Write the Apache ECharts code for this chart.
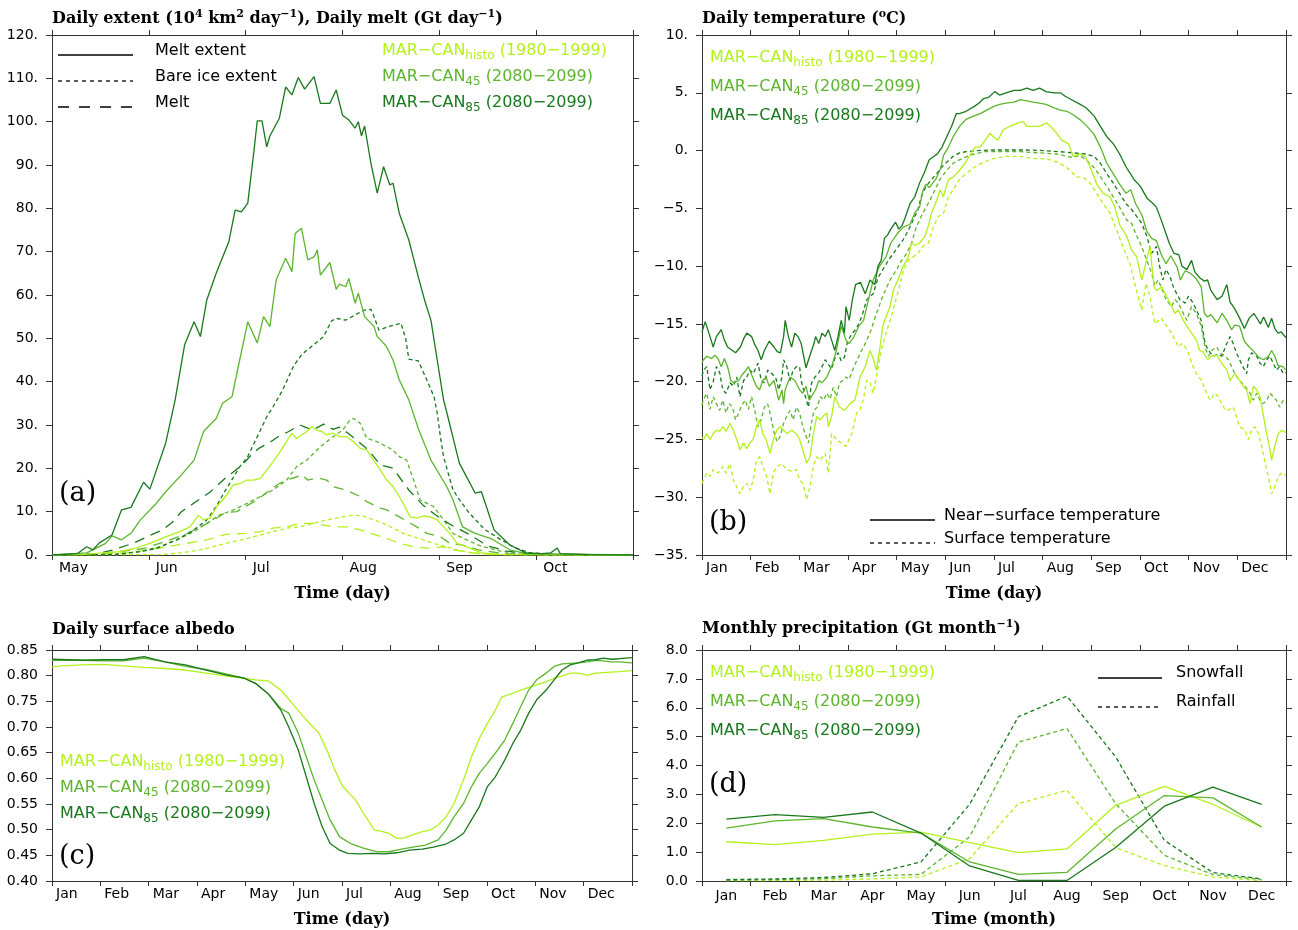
<!DOCTYPE html>
<html>
<head>
<meta charset="utf-8">
<title>MAR-CAN daily and monthly fields</title>
<script src="https://cdn.jsdelivr.net/npm/echarts@6/dist/echarts.min.js"></script>
<style>
  html, body { margin: 0; padding: 0; background: #fff; }
  #main { width: 1298px; height: 930px; }
</style>
</head>
<body>
<div id="main"></div>
<script>
let log = console.log.bind(console)

// colours of the three runs
const cHisto = '#b2f11b'
const c45 = '#5cb52d'
const c85 = '#18781c'

const monthsA = ['May', 'Jun', 'Jul', 'Aug', 'Sep', 'Oct']
const months = ['Jan', 'Feb', 'Mar', 'Apr', 'May', 'Jun', 'Jul', 'Aug', 'Sep', 'Oct', 'Nov', 'Dec']

// (a) [day since 1 May, value]
const extMelt85 = [[0,0],[8,0.3],[11,1.9],[13,1.2],[15,2.8],[19,4.6],[22,10.4],[25,11],[29,16.8],[31,15.2],[36,25.8],[39,35.8],[42,48.5],[45,53.8],[47,50.4],[49,58.8],[52,65],[56,72.3],[58,79.6],[60,79.2],[62,81.2],[64,93.5],[65,100.2],[66.5,100.2],[68,94.2],[69,96.7],[72,100.8],[74,108],[76,106.2],[78,110.2],[80,107.5],[81,108.5],[83,110.4],[85,104.2],[88,104.2],[90,107.3],[92,101.5],[94,100.4],[96,98.5],[97,100],[98,96.7],[99,99],[101,90.4],[103,83.5],[105,89.6],[107,85.4],[108,85.8],[110,78.8],[113,72.7],[116,64.2],[118,58.8],[120,54.2],[122,45],[124,35.8],[125,33],[129,21.2],[134,14.3],[136,14.6],[140,5.8],[145,2.3],[150,0.5],[155,0.3],[158,0.5],[160,1.6],[161,0.3],[170,0.1],[184,0]]
const extMelt45 = [[0,0],[11,0.5],[14,1.6],[17,2.7],[19,4.4],[22,3.5],[25,5],[28,8.1],[33,11.9],[36,14.6],[41,18.5],[45,21.9],[48,28.5],[52,31.5],[54,35],[57,36.5],[59,43.5],[62,53.8],[65,48.9],[67,55],[69,52.7],[71,63.5],[74,68.5],[76,65.4],[77,74.2],[79,75.4],[81,68.1],[83,68.8],[84,70.4],[85,64.6],[88,67.5],[90,61.3],[91,62.5],[93,61.9],[94,63.8],[96,58.1],[97,60.4],[99,55],[102,52.7],[103,50.4],[105,48.9],[106,48],[108,45],[110,40.4],[113,35.8],[116,29.2],[120,21.9],[125,15.8],[127,12.7],[130,6.5],[134,5],[139,3.8],[145,1.2],[150,0.3],[184,0]]
const extMeltH = [[0,0],[11,0.2],[21.5,0.8],[26,1.5],[31,2.7],[36,4.2],[40.5,5.4],[43.7,6.5],[46.4,9.2],[47.9,8.1],[50,8.5],[52.2,11.2],[55.3,13.8],[57.4,16.2],[59.6,16.5],[61.7,17.3],[63.8,17.3],[66,17.7],[68,19.6],[70,21.5],[72.2,23.8],[74.3,26.2],[75.9,28.1],[77.5,26.9],[79,27.7],[80.7,28.5],[82.3,29.6],[83.8,28.8],[85.4,28.5],[87,27.7],[89,28.1],[91.2,27.3],[93.3,27.3],[95.4,26.2],[97.6,24.6],[99.7,24.2],[101.8,21.9],[104,19.6],[106,17.3],[108,15.8],[110,13.5],[112.3,10.4],[113.4,8.8],[115.5,8.5],[117.6,9],[119.7,8.8],[122,8.1],[124,6.5],[126,5],[128.2,2.7],[132,1.7],[136,0.5],[142,0.1],[184,0]]
const bareIce85 = [[0,0],[20,0.1],[28,0.8],[33,1.5],[39.5,3.5],[45,5.8],[49,8.1],[52,11.2],[55,15],[59.5,20.4],[62,22.7],[64,25.8],[66,28.8],[68,31.9],[70,34.2],[73,38],[74.5,40.4],[76.5,43.6],[79,46.2],[82,48],[86,50.4],[88.5,54],[90,54.6],[93,54.2],[97,55.8],[99,56.5],[101,56.7],[102,55],[103.5,51.9],[106.5,52.7],[108,53],[110.5,53.5],[112,50],[113,45.2],[116,44.8],[118.7,40.4],[121,36.5],[122,32.7],[123,27.3],[124,22.7],[125.5,18.8],[127,15],[129,12.8],[132,9.8],[137,5.9],[142,3.6],[146.5,1.7],[151.5,0.5],[160,0.1],[184,0]]
const bareIce45 = [[0,0],[20,0.2],[28,0.8],[34,1.9],[39.5,3.5],[45,5.4],[49,7.3],[53,9.2],[57.5,10.4],[61.7,11.9],[66,13.5],[70,15],[74.3,17.3],[77.5,20.4],[80.7,21.9],[85,25],[89,27.3],[92,28.8],[94.4,31.2],[95.5,31.5],[97.6,30.4],[99.7,26.9],[102.8,26.2],[106,25],[108,24.2],[110,22.7],[112.3,21.9],[114.5,17.3],[116.6,12.7],[120.8,11.2],[124,8.1],[127,5],[131,3.6],[136,2],[142,0.9],[148,0.2],[184,0]]
const bareIceH = [[0,0],[35,0.1],[42,0.6],[47,1.2],[53,2.3],[57.4,3.1],[61.7,3.8],[66,4.6],[70,5.4],[74.3,6.2],[78.6,6.5],[82.8,7.3],[87,8.1],[91.2,8.7],[95.5,9.2],[98.6,9],[101.8,8.1],[105,7.3],[108,6.2],[111.3,5],[114.5,4.2],[117.6,3.5],[120.8,2.7],[125,1.9],[128.2,1.2],[133,0.5],[140,0.1],[184,0]]
const melt85 = [[0,0],[14,0.2],[20,1.3],[26,2.8],[31,4.5],[35,5.8],[38,7.5],[41,10],[45,12],[50,14.5],[54.5,17.5],[58,19.5],[60.5,21],[63,23],[65.5,24.6],[69,26],[72,27.5],[75,28.5],[78.5,30],[81,29.3],[83,29],[86,30.2],[89,29],[91,29.5],[94,28],[96,26.8],[99,25],[101,23.5],[104,20.8],[108,20],[110,18],[113,15],[117.5,11.5],[121,9.5],[124,8],[127,6.7],[132,4.8],[138,2.1],[144,0.9],[150,0.4],[160,0.1],[184,0]]
const melt45 = [[0,0],[15,0.3],[21.5,0.8],[29,1.5],[36,3.1],[43,5],[47,6.5],[51,8],[55,9.8],[58.5,10],[62,11.5],[65,12.7],[69,15],[72,16.5],[75,17.5],[77.5,18],[79,18.6],[81,17.3],[84,17.8],[87,17.3],[89,15.8],[93,15],[97.6,13.5],[99.7,12.3],[104,10.8],[106,10.4],[110,8.8],[115.5,6.5],[118.7,5],[123,4.2],[126,2.7],[130,2.3],[135,1.2],[142,0.4],[150,0.1],[184,0]]
const meltH = [[0,0],[15,0.1],[23.7,0.5],[30,1.2],[36.3,1.9],[42.7,2.7],[49,3.5],[55.3,4.8],[61.7,5],[66,5.4],[70,6.2],[74.3,6.5],[78.6,7.3],[82.8,7.3],[89,6.5],[93.3,6.5],[97.6,5.8],[101.8,4.8],[106,3.8],[110.2,2.7],[114.5,1.9],[119.7,1.5],[124,1.9],[127,1.2],[132,0.6],[138,0.1],[184,0]]

// (b) [day of year, degC]
const tNear85 = [[0,-15.7],[2,-14.8],[5,-16.1],[7,-17],[9,-16.1],[12,-15.5],[14,-16.4],[16,-17],[19,-17.3],[21,-17.5],[24,-17],[26,-16.3],[28,-15.8],[31,-16.1],[33,-16.8],[35,-17.3],[37,-18.1],[39,-17.3],[42,-16.5],[45,-17],[47,-17.4],[49,-17.5],[51,-16.1],[52,-14.7],[54,-16.1],[56,-17],[58,-15.8],[60,-16.1],[62,-16.7],[65,-18.8],[68,-17.5],[70,-16.7],[71,-16.1],[73,-16.7],[75,-15.8],[77,-16.1],[79,-15.5],[81,-16.4],[83,-17.3],[85,-16.1],[87,-14.7],[89,-15.8],[90,-13.5],[92,-14.7],[94,-12.9],[96,-11.6],[99,-11.4],[102,-12.4],[105,-11.2],[108,-11.6],[110,-10],[112,-9.5],[114,-7.6],[116,-7.3],[118,-6.8],[121,-6.2],[123,-6.8],[125,-6.5],[127,-5.8],[130,-4.6],[133,-4],[136,-2.8],[139,-1.9],[142,-0.8],[147,-0.3],[150,0.3],[153,1.2],[156,2.1],[159,3.2],[161,3.2],[165,3.4],[170,3.8],[173,4.1],[176,4.5],[179,4.6],[183,5.1],[186,4.8],[190,5],[195,5.2],[199,5.2],[203,5.4],[207,5.2],[211,5.4],[215,5.1],[220,5],[224,5],[227,4.7],[231,4.4],[235,4.1],[240,3.7],[245,3],[249,2.1],[253,1.2],[257,0.6],[261,-0.3],[265,-1.4],[270,-2.5],[274,-3.1],[278,-4.1],[282,-4.6],[284,-4.9],[287,-6],[290,-7.2],[292,-8],[295,-8.9],[298,-9],[300,-10],[303,-10.3],[306,-9.5],[308,-10.5],[311,-11],[314,-11.3],[316,-11.2],[318,-12.1],[322,-12.9],[325,-12.6],[328,-11.6],[330,-13.1],[333,-13.7],[336,-14.5],[339,-15.4],[342,-14.5],[345,-14.1],[349,-15],[351,-14.4],[354,-15.3],[356,-14.5],[358,-15.4],[360,-15.8],[362,-15.7],[365,-16.2]]
const tNear45 = [[0,-18.3],[1,-18.1],[3,-17.8],[6,-18],[8,-17.7],[10,-18],[12,-18.7],[14,-18],[16,-18.7],[18,-19.9],[20,-20.1],[23,-19.9],[25,-19.4],[27,-19.1],[29,-18.7],[31,-19.4],[34,-20.4],[36,-20.7],[38,-19.9],[40,-19.6],[42,-20.4],[45,-19.9],[48,-21.6],[50,-20.7],[51,-21.9],[52,-20.7],[55,-19.6],[58,-19.9],[61,-20.7],[63,-21],[65,-20.4],[67,-21.6],[71,-20.7],[73,-19.9],[75,-20.1],[78,-19.6],[81,-18.7],[84,-17.3],[87,-15.2],[90,-16.4],[92,-16.7],[95,-16.1],[98,-15.2],[101,-14.7],[103,-13.5],[104,-13.4],[107,-11.2],[111,-10],[115,-9.2],[118,-8],[122,-7.2],[126,-6.6],[130,-6.4],[133,-5.4],[136,-4.9],[138,-3.5],[140,-2.9],[142,-3.2],[146,-2.5],[149,-1.6],[151,-0.4],[154,0.3],[157,1.2],[161,2.1],[165,2.7],[170,3],[174,3.2],[178,3.5],[182,3.8],[186,4],[190,4.1],[195,4.2],[199,4.4],[203,4.3],[207,4.2],[211,4.1],[215,4],[220,3.7],[224,3.5],[228,3.4],[232,3.1],[236,2.7],[240,2.2],[245,1.4],[249,0.3],[253,-1.1],[257,-2],[261,-2.9],[265,-3.7],[268,-3.4],[271,-4.6],[275,-5.6],[278,-7],[281,-7.6],[284,-7.8],[287,-9],[290,-9.8],[293,-9.1],[297,-10.1],[299,-11.2],[302,-10.4],[305,-10.6],[309,-11.1],[312,-11.8],[314,-14.1],[316,-14.4],[318,-14.2],[322,-14.9],[325,-14.1],[328,-14.7],[331,-15.5],[333,-15.1],[336,-15.2],[339,-16.5],[342,-17],[345,-17.4],[348,-17.9],[351,-18.1],[354,-17.8],[356,-17.3],[358,-17.8],[360,-18.6],[363,-18.7],[365,-19]]
const tNearH = [[0,-24.8],[1,-25],[3,-24.5],[5,-25],[7,-24.5],[9,-24.2],[11,-24.3],[13,-23.9],[15,-24.3],[17.5,-23.6],[19.6,-24.2],[21.7,-25],[23.75,-25.9],[26,-25.3],[28,-25.8],[30,-25.3],[32,-25],[34,-23.9],[36,-23.3],[38,-24.5],[40,-25],[42.5,-26.2],[44.6,-25],[46.7,-24.2],[48.75,-23.9],[51,-24.2],[53,-24.5],[56,-24.2],[59,-24.5],[61,-25],[63,-25.9],[65.4,-27.05],[67.5,-26.5],[69.6,-24.5],[71.7,-23],[73.75,-23.3],[75.8,-23],[78,-22.7],[79,-23.9],[81,-23],[83,-21.3],[86,-22.2],[89,-22.5],[92.5,-21.9],[95.6,-21.6],[98.75,-19.6],[102,-18.7],[105,-17.3],[107,-18],[109,-19],[111,-17.3],[113,-15.2],[115,-14.4],[117.5,-13.5],[119.6,-12.1],[122.7,-11.1],[125.8,-10],[129,-9.2],[131,-8],[133,-8.2],[136,-8],[139.4,-7.4],[141.5,-6.5],[143.5,-5.4],[146.7,-4.3],[148.75,-3.4],[150.8,-4],[154,-2.5],[157,-2.3],[161,-1.7],[164.4,-1.1],[167.5,-0.4],[170.6,0.3],[173.75,0.3],[177,0.9],[180,1.5],[182,1.2],[185,0.9],[188.3,1.8],[192.5,2.1],[197.7,2.4],[200.8,2.5],[203,2.1],[207,2.1],[211,2.1],[215.4,2.4],[218.5,2],[221.7,1.5],[224.8,0.9],[229,0.6],[232,-0.5],[236,-0.3],[239.4,-0.5],[242.5,-1.4],[246.7,-2.9],[250.8,-3.7],[255,-4],[258,-4.9],[261,-6.4],[265.4,-7.4],[268.5,-8.6],[271.7,-9.2],[274.8,-11.2],[278,-9.4],[280,-8.3],[282.5,-11.8],[284.2,-12.1],[287.3,-11.8],[290.4,-12.6],[293.5,-13.5],[295.6,-14.1],[297.7,-13.8],[300.8,-14.7],[303,-15.2],[306,-15.8],[309,-16.4],[311,-17.3],[313,-17.4],[316,-18.1],[318.5,-17.8],[321.7,-17.7],[324.8,-18.4],[328,-19],[330,-19.9],[333,-19.3],[336,-19.9],[338.3,-20.4],[340.4,-20.7],[342.5,-21.9],[344.6,-20.4],[346.7,-20.7],[348.75,-21.3],[350.8,-22.9],[352.9,-24.5],[355,-25.9],[356,-26.8],[358,-25.6],[360.2,-24.5],[362.3,-24.2],[365,-24.4]]
const tSurf85 = [[0,-19.5],[1,-19],[3,-18.7],[5,-20.7],[7,-20],[9,-18.7],[11,-19.2],[13,-20.7],[15,-21],[17.5,-20.1],[19.6,-20.4],[21.7,-19.6],[23.75,-21.3],[26,-19.9],[28,-19.6],[30,-19],[32,-19.3],[35,-18.4],[37,-19.9],[39,-20.1],[41,-19],[43.5,-19.3],[46,-19.6],[48,-20.7],[50,-19.6],[51,-18.1],[53,-18.7],[55,-19.9],[57,-19],[59,-18.7],[61,-18.7],[62,-19.9],[64,-21],[66.5,-22.2],[68.5,-20.1],[70.6,-19.6],[72.7,-19.3],[75,-18.7],[77,-18.1],[79,-18.5],[81,-18.9],[83,-18],[85,-17.5],[87,-18.2],[89,-17.9],[91,-16.5],[94,-15.8],[96,-15.5],[98,-15],[100,-14.3],[103,-12.9],[107,-12.4],[110,-11],[113,-10.3],[116.5,-9.5],[119.6,-8.9],[122.7,-8.3],[125.8,-7.7],[129,-6.9],[132,-6],[135,-5.1],[137,-4],[140,-3.1],[143.5,-2.5],[146.7,-2],[150,-1.4],[153,-1],[157,-0.5],[161,-0.2],[165,-0.1],[172,0],[182,0.05],[192,0.05],[203,0.05],[213,0],[224,-0.1],[232,-0.2],[240,-0.3],[245,-0.5],[249,-1.1],[253,-2],[257,-2.8],[261,-3.7],[265,-4.6],[268.5,-5.1],[271.7,-5.7],[274.8,-6.3],[278,-7.4],[281,-8.9],[284,-8.3],[286,-10],[288,-11.2],[290,-10.3],[292.5,-10.9],[294.6,-11.8],[296.7,-12.4],[298.75,-12.9],[302,-13.2],[304,-12.6],[307,-13.2],[309,-13.8],[312,-14.7],[314.4,-16.7],[316.5,-17.3],[319.6,-17.8],[322.7,-17.6],[324.8,-17.8],[328,-16.7],[330,-16.1],[332,-16.7],[334,-17.5],[336,-18.1],[338,-18.7],[340.4,-19.3],[341.5,-18.1],[343.5,-17.5],[346.7,-17.8],[348.75,-18.4],[350.8,-18.7],[353,-18.1],[355,-17.8],[357,-18.4],[359,-19],[361,-18.7],[363.3,-19.3],[365,-19.2]]
const tSurf45 = [[0,-22],[1,-21.5],[3,-21],[5,-22.4],[7,-21.3],[9,-21.9],[11,-22.5],[13,-21.6],[15,-22.7],[17,-21.9],[19,-22.2],[21,-23.3],[23,-22.7],[25,-22],[27,-21.6],[29,-22.4],[31,-21.3],[33,-22.5],[35,-23.9],[37,-23.3],[39,-22.2],[41,-21.9],[43,-23],[45,-24.4],[47,-25.2],[49,-24.7],[51,-23.6],[53,-23],[55,-22.5],[57,-23.3],[59,-22.2],[61,-22.7],[63,-23.9],[65,-24.7],[66.5,-25.3],[68,-23.9],[70,-22.5],[72,-22.2],[74,-21.3],[76,-21.6],[78,-21],[80,-21.5],[82,-20.5],[84,-21.3],[86,-20.1],[88,-19.9],[90,-19.6],[92,-19.8],[95,-18.7],[97,-18.1],[99,-17.5],[101,-17],[103,-16.4],[105,-15.8],[109,-14.1],[113,-12.6],[117.5,-11.2],[121.7,-10.3],[124.8,-9.5],[128,-8.9],[131,-8],[134,-6.6],[138,-5.4],[142.5,-4.3],[145.6,-3.4],[148.75,-2.5],[153,-1.7],[157,-1.1],[161,-0.8],[167.5,-0.4],[176,-0.1],[186,-0.1],[199,-0.1],[211,-0.2],[222,-0.3],[228,-0.5],[232,-0.6],[236,-0.4],[240,-0.8],[244.6,-1.4],[248.75,-2.2],[253,-3.1],[257,-4],[261,-4.9],[265.4,-6],[268.5,-6.3],[271.7,-7.4],[274.8,-8.3],[278,-9.5],[281,-10.6],[283,-11.7],[285,-11.2],[287,-11.8],[290,-12.9],[293.5,-13.5],[295.6,-12.9],[297.7,-13.2],[299.8,-13.8],[303,-14.7],[306,-13.5],[309,-14.1],[312,-15.2],[314.4,-17],[316.5,-17.8],[318.5,-17.3],[321.7,-17],[323.75,-17.5],[327,-17.8],[329,-18.1],[331,-18.7],[333,-19.3],[336,-19.9],[339.4,-20.4],[342.5,-21],[344.6,-21.6],[346.7,-21],[348.75,-21.6],[350.8,-21.9],[353,-21.6],[355,-21],[357,-21.3],[359,-21.6],[361,-22.2],[363.3,-21.6],[365,-21.8]]
const tSurfH = [[0,-28.8],[1,-28.5],[3,-27.9],[5,-28.2],[7,-27.6],[10,-27.9],[13,-27.35],[15,-27.9],[17.5,-27.1],[19.6,-28.5],[21.7,-29.1],[23.75,-29.7],[25.8,-29.1],[28,-28.8],[30,-29.4],[32,-28.5],[34,-26.8],[36,-26.5],[38,-27.35],[40.4,-28.2],[42.5,-29.7],[44.6,-27.9],[46.7,-27.35],[49.8,-27.1],[53,-27.6],[56,-27.75],[59,-27.6],[61,-28.5],[63,-28.8],[65.4,-30.2],[67.5,-29.1],[69.6,-27.35],[71.7,-26.5],[73.75,-26.8],[77,-26.2],[79,-27.9],[81,-24.5],[84,-25],[87,-25.3],[90,-25.6],[93.5,-24.5],[96.7,-22.7],[98.75,-22.45],[100.8,-21.6],[103,-19.85],[105,-20.1],[107,-21],[109,-19.6],[112,-17.3],[115,-15.8],[118,-14.5],[121,-13],[123,-12],[126,-10.3],[129,-9.5],[132,-9.2],[135,-8.9],[138,-8.3],[141.5,-8],[144.6,-6.6],[147.7,-5.7],[150.8,-5.5],[154,-4],[157,-3.4],[161,-2.5],[165,-2],[170.6,-1.4],[176,-1],[182,-0.7],[190,-0.5],[199,-0.5],[207,-0.7],[215,-0.7],[222,-1],[226,-1.3],[230,-1.7],[234,-2.3],[238,-2.3],[242.5,-2.8],[246.7,-3.7],[250.8,-4.6],[255,-5.4],[259,-6.8],[263,-8.3],[267.5,-9.8],[271,-11.8],[274.8,-13.8],[277.5,-11.5],[280,-12.6],[283,-15],[287,-14.5],[290.4,-15.2],[293.5,-15.8],[295.6,-16.4],[297.7,-17],[300,-16.7],[302,-17],[304,-17.5],[306,-18.4],[309,-19.3],[312,-19.85],[315.4,-21],[317.5,-21.6],[320.6,-21],[322.7,-21.3],[324.8,-21.9],[327,-22.45],[329,-22.45],[332,-22.2],[334,-23],[336,-23.9],[339.4,-24.2],[341.5,-25],[343.5,-24.2],[345.6,-23.9],[347.7,-24.5],[349.8,-25.6],[352,-27.1],[354,-28.2],[356,-29.7],[358,-29.1],[360.2,-28.2],[362.3,-27.9],[365,-28.1]]

// (c) [day of year, albedo]
const albedoH = [[0,0.817],[6,0.819],[19,0.821],[32,0.822],[45,0.819],[58,0.816],[71,0.814],[84,0.811],[97,0.805],[110,0.799],[121,0.795],[128,0.792],[136,0.79],[144,0.772],[152,0.743],[160,0.714],[168,0.688],[173,0.655],[178,0.616],[183,0.584],[191,0.558],[196,0.532],[203,0.499],[207,0.497],[212,0.493],[217,0.483],[222,0.484],[227,0.49],[233,0.496],[238,0.499],[243,0.509],[248,0.525],[253,0.551],[259,0.597],[264,0.642],[269,0.678],[274,0.707],[279,0.733],[283,0.758],[290,0.766],[295,0.772],[300,0.777],[305,0.782],[311,0.788],[316,0.795],[321,0.799],[326,0.805],[331,0.805],[337,0.801],[342,0.805],[347,0.806],[352,0.807],[357,0.808],[365,0.81]]
const albedo45 = [[0,0.83],[19,0.83],[32,0.829],[45,0.829],[58,0.834],[71,0.827],[84,0.818],[97,0.812],[110,0.803],[121,0.795],[128,0.785],[136,0.765],[144,0.736],[149,0.727],[155,0.688],[160,0.642],[165,0.597],[170,0.558],[175,0.519],[181,0.486],[188,0.473],[196,0.464],[204,0.457],[212,0.457],[220,0.462],[227,0.466],[235,0.47],[243,0.48],[248,0.499],[253,0.525],[259,0.551],[264,0.584],[269,0.61],[274,0.629],[279,0.649],[285,0.675],[290,0.707],[295,0.74],[300,0.772],[305,0.792],[311,0.805],[316,0.818],[321,0.823],[326,0.824],[331,0.825],[337,0.827],[342,0.83],[347,0.829],[352,0.827],[357,0.827],[365,0.825]]
const albedo85 = [[0,0.832],[19,0.83],[32,0.831],[45,0.831],[58,0.837],[71,0.827],[84,0.821],[97,0.811],[110,0.801],[121,0.795],[128,0.785],[136,0.765],[144,0.733],[149,0.7],[155,0.655],[160,0.603],[165,0.551],[170,0.506],[175,0.473],[181,0.46],[186,0.454],[194,0.453],[201,0.454],[209,0.453],[217,0.455],[225,0.46],[233,0.462],[240,0.466],[248,0.472],[253,0.48],[259,0.493],[264,0.519],[269,0.545],[274,0.584],[279,0.603],[285,0.636],[290,0.668],[295,0.694],[300,0.727],[305,0.753],[311,0.772],[316,0.792],[321,0.811],[326,0.821],[331,0.825],[337,0.8305],[342,0.831],[347,0.834],[352,0.832],[357,0.833],[365,0.835]]

// (d) Gt per month, Jan..Dec
const snow85 = [2.14, 2.3, 2.2, 2.39, 1.66, 0.52, 0.02, 0.02, 1.16, 2.59, 3.25, 2.65]
const snow45 = [1.83, 2.08, 2.16, 1.87, 1.66, 0.66, 0.23, 0.3, 1.8, 2.96, 2.88, 1.87]
const snowH = [1.36, 1.26, 1.41, 1.62, 1.69, 1.33, 0.98, 1.11, 2.62, 3.28, 2.65, 1.87]
const rain85 = [0.05, 0.07, 0.12, 0.25, 0.66, 2.66, 5.69, 6.4, 4.3, 1.41, 0.29, 0.07]
const rain45 = [0.02, 0.05, 0.08, 0.18, 0.23, 1.53, 4.81, 5.28, 2.68, 0.89, 0.22, 0.05]
const rainH = [0.01, 0.02, 0.03, 0.07, 0.14, 0.77, 2.68, 3.14, 1.16, 0.53, 0.14, 0.01]

const SHORT = [4, 3]
const LONG = [10, 7]
const axisColor = '#333'
const tickFont = { fontFamily: 'DejaVu Sans', fontSize: 14, color: '#000' }
const nameFont = { fontFamily: 'DejaVu Serif', fontWeight: 'bold', fontSize: 16, color: '#000' }

let axisLine = { show: true, onZero: false, lineStyle: { color: axisColor, width: 1 } }
let tick = function(len) {
    return { show: true, inside: false, length: len, lineStyle: { color: axisColor } }
}

// hidden axis that carries the days
let dataAxis = function(grid, max) {
    return { type: 'value', gridIndex: grid, min: 0, max: max, show: false, position: 'bottom',
        axisLine: { onZero: false } }
}

// month ticks and labels under the plot
let labelAxis = function(grid, names, pad, name) {
    return {
        type: 'value', gridIndex: grid, position: 'bottom',
        min: 0, max: names.length, interval: 1,
        axisLine: axisLine, axisTick: tick(5), splitLine: { show: false },
        axisLabel: Object.assign({
            margin: 6, align: 'left', padding: [0, 0, 0, pad],
            formatter: function(v) { return names[Math.round(v)] || '' }
        }, tickFont),
        name: name, nameLocation: 'middle', nameGap: 31, nameTextStyle: nameFont
    }
}

let topAxis = function(grid, n) {
    return {
        type: 'value', gridIndex: grid, position: 'top', min: 0, max: n, interval: 1,
        axisLine: axisLine, axisTick: tick(5), axisLabel: { show: false }, splitLine: { show: false }
    }
}

let leftAxis = function(grid, min, max, interval, fmt) {
    return {
        type: 'value', gridIndex: grid, position: 'left', min: min, max: max, interval: interval,
        axisLine: axisLine, axisTick: tick(6), splitLine: { show: false },
        axisLabel: Object.assign({ margin: 14, formatter: fmt }, tickFont)
    }
}

let rightAxis = function(grid, min, max, interval) {
    return {
        type: 'value', gridIndex: grid, position: 'right', min: min, max: max, interval: interval,
        axisLine: axisLine, axisTick: tick(6), axisLabel: { show: false }, splitLine: { show: false }
    }
}

let catAxis = function(grid, pos, labels) {
    return {
        type: 'category', gridIndex: grid, position: pos, data: months, boundaryGap: true,
        axisLine: axisLine, axisTick: tick(5), splitLine: { show: false },
        axisLabel: labels ? Object.assign({ margin: 8 }, tickFont) : { show: false },
        name: labels ? 'Time (month)' : '', nameLocation: 'middle', nameGap: 31, nameTextStyle: nameFont
    }
}

let line = function(data, color, dash, xi, yi) {
    return {
        type: 'line', data: data, xAxisIndex: xi, yAxisIndex: yi,
        symbol: 'none', showSymbol: false, silent: true,
        lineStyle: { color: color, width: 1.3, type: dash }
    }
}

const minus = function(v) { return (v < 0 ? '\u2212' : '') + Math.abs(v) + '.' }

// legend pieces
let txt = function(x, y, text, color) {
    return { type: 'text', x: x, y: y, silent: true,
        style: { text: text, fill: color, fontSize: 16, fontFamily: 'DejaVu Sans', verticalAlign: 'middle' } }
}
let seg = function(x1, x2, y, dash) {
    return { type: 'line', silent: true, shape: { x1: x1, y1: y, x2: x2, y2: y },
        style: { stroke: '#000', lineWidth: 1.3, lineDash: dash } }
}
let scen = function(x, y, i) {
    let colors = [cHisto, c45, c85]
    let texts = ['MAR\u2212CAN{s|histo} (1980\u22121999)', 'MAR\u2212CAN{s|45} (2080\u22122099)', 'MAR\u2212CAN{s|85} (2080\u22122099)']
    return { type: 'text', x: x, y: y, silent: true,
        style: { text: texts[i], fill: colors[i], fontSize: 16, fontFamily: 'DejaVu Sans', verticalAlign: 'middle',
            rich: { s: { fill: colors[i], fontSize: 12, fontFamily: 'DejaVu Sans', padding: [9, 0, 0, 0] } } } }
}
let panel = function(x, y, t) {
    return { type: 'text', x: x, y: y, silent: true,
        style: { text: t, fill: '#000', fontSize: 27, fontFamily: 'DejaVu Serif', verticalAlign: 'middle' } }
}

let titleStyle = {
    fontFamily: 'DejaVu Serif', fontWeight: 'bold', fontSize: 16, color: '#000',
    rich: { sup: { fontFamily: 'DejaVu Serif', fontWeight: 'bold', fontSize: 11, color: '#000', padding: [0, 0, 9, 0] } }
}

let option = {
    animation: false,
    backgroundColor: '#fff',
    title: [
        { text: 'Daily extent (10{sup|4} km{sup|2} day{sup|\u22121}), Daily melt (Gt day{sup|\u22121})', left: 52, top: 9, padding: 0, textStyle: titleStyle },
        { text: 'Daily temperature ({sup|o}C)', left: 702, top: 9, padding: 0, textStyle: titleStyle },
        { text: 'Daily surface albedo', left: 52, top: 622, padding: 0, textStyle: titleStyle },
        { text: 'Monthly precipitation (Gt month{sup|\u22121})', left: 702, top: 619, padding: 0, textStyle: titleStyle }
    ],
    grid: [
        { left: 52, top: 35, width: 581, height: 520 },
        { left: 702, top: 35, width: 584, height: 520 },
        { left: 52, top: 650, width: 580, height: 231 },
        { left: 702, top: 650, width: 584, height: 231 }
    ],
    xAxis: [
        dataAxis(0, 184), labelAxis(0, monthsA, 7, 'Time (day)'), topAxis(0, 6),
        dataAxis(1, 365), labelAxis(1, months, 4, 'Time (day)'), topAxis(1, 12),
        dataAxis(2, 365), labelAxis(2, months, 4, 'Time (day)'), topAxis(2, 12),
        catAxis(3, 'bottom', true), catAxis(3, 'top', false)
    ],
    yAxis: [
        leftAxis(0, 0, 120, 10, function(v) { return v + '.' }), rightAxis(0, 0, 120, 10),
        leftAxis(1, -35, 10, 5, minus), rightAxis(1, -35, 10, 5),
        leftAxis(2, 0.4, 0.85, 0.05, function(v) { return v.toFixed(2) }), rightAxis(2, 0.4, 0.85, 0.05),
        leftAxis(3, 0, 8, 1, function(v) { return v.toFixed(1) }), rightAxis(3, 0, 8, 1)
    ],
    series: [
        // (a)
        line(bareIceH, cHisto, SHORT, 0, 0),
        line(meltH, cHisto, LONG, 0, 0),
        line(bareIce45, c45, SHORT, 0, 0),
        line(melt45, c45, LONG, 0, 0),
        line(bareIce85, c85, SHORT, 0, 0),
        line(melt85, c85, LONG, 0, 0),
        line(extMeltH, cHisto, 'solid', 0, 0),
        line(extMelt45, c45, 'solid', 0, 0),
        line(extMelt85, c85, 'solid', 0, 0),
        // (b)
        line(tSurfH, cHisto, SHORT, 3, 2),
        line(tSurf45, c45, SHORT, 3, 2),
        line(tSurf85, c85, SHORT, 3, 2),
        line(tNearH, cHisto, 'solid', 3, 2),
        line(tNear45, c45, 'solid', 3, 2),
        line(tNear85, c85, 'solid', 3, 2),
        // (c)
        line(albedoH, cHisto, 'solid', 6, 4),
        line(albedo45, c45, 'solid', 6, 4),
        line(albedo85, c85, 'solid', 6, 4),
        // (d)
        line(rainH, cHisto, SHORT, 9, 6),
        line(rain45, c45, SHORT, 9, 6),
        line(rain85, c85, SHORT, 9, 6),
        line(snowH, cHisto, 'solid', 9, 6),
        line(snow45, c45, 'solid', 9, 6),
        line(snow85, c85, 'solid', 9, 6)
    ],
    graphic: [
        // (a)
        seg(58, 133, 55, null), txt(155, 51, 'Melt extent', '#000'),
        seg(58, 133, 81, [4, 4]), txt(155, 77, 'Bare ice extent', '#000'),
        seg(58, 133, 107, [11, 10]), txt(155, 103, 'Melt', '#000'),
        scen(382, 51, 0), scen(382, 77, 1), scen(382, 103, 2),
        panel(59, 494, '(a)'),
        // (b)
        scen(710, 58, 0), scen(710, 87, 1), scen(710, 116, 2),
        seg(870, 935, 520, null), txt(944, 516, 'Near\u2212surface temperature', '#000'),
        seg(870, 935, 543, [4, 4]), txt(944, 539, 'Surface temperature', '#000'),
        panel(709, 523, '(b)'),
        // (c)
        scen(60, 762, 0), scen(60, 788, 1), scen(60, 814, 2),
        panel(59, 857, '(c)'),
        // (d)
        scen(710, 673, 0), scen(710, 702, 1), scen(710, 731, 2),
        seg(1098, 1162, 678, null), txt(1176, 673, 'Snowfall', '#000'),
        seg(1098, 1162, 707, [4, 4]), txt(1176, 702, 'Rainfall', '#000'),
        panel(709, 785, '(d)')
    ]
}

let myChart = echarts.init(document.getElementById('main'))
myChart.setOption(option)
</script>
</body>
</html>
